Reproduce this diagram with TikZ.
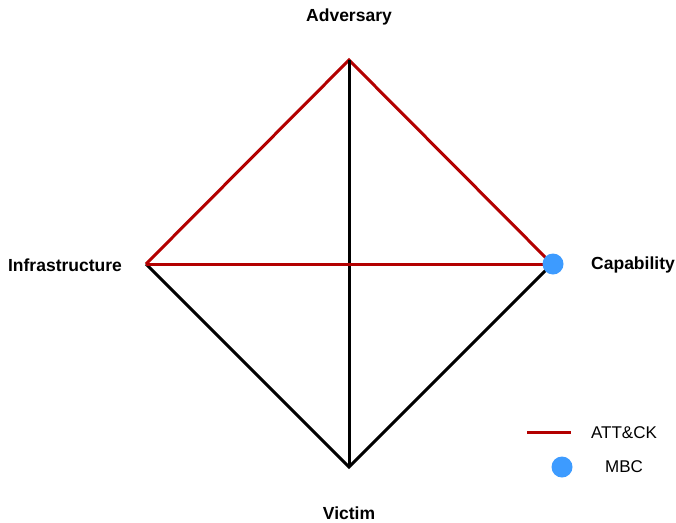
\documentclass[tikz,border=0pt]{standalone}
\usepackage{fontspec}
\setmainfont{Liberation Sans}
\definecolor{attred}{HTML}{B30000}
\definecolor{mbcblue}{HTML}{3D9BFF}
\begin{document}
\begin{tikzpicture}[x=1pt,y=-1pt,
  vlabel/.style={font=\fontsize{17.5}{20}\selectfont\bfseries,inner sep=1pt},
  llabel/.style={font=\fontsize{17}{20}\selectfont},
  blackedge/.style={draw=black,line width=3pt},
  rededge/.style={draw=attred,line width=3pt},
  mbcdot/.style={circle,fill=mbcblue,minimum size=21pt,inner sep=0pt}]
\useasboundingbox (0,0) rectangle (676,522);
\coordinate (adv) at (349,60);
\coordinate (inf) at (146,264);
\coordinate (cap) at (552,264);
\coordinate (vic) at (349,467);
\node[vlabel] (advl) at (349,17) {Adversary};
\node[vlabel] (infl) at (65,265) {Infrastructure};
\node[vlabel] (capl) at (633,265) {Capability};
\node[vlabel] (vicl) at (349,513) {Victim};
\draw[blackedge] (inf) -- (vic) -- (cap);
\draw[rededge] (inf) -- (adv) -- (cap);
\draw[blackedge] (adv) -- (vic);
\draw[rededge] (inf) -- (cap);
\node[mbcdot] (capdot) at (553,264) {};
% legend
\coordinate (lg1) at (527,432);
\coordinate (lg2) at (571,432);
\draw[rededge] (lg1) -- (lg2);
\node[llabel] (attl) at (624,433) {ATT\&CK};
\node[mbcdot] (legdot) at (562,467) {};
\node[llabel] (mbcl) at (624,467) {MBC};
\end{tikzpicture}
\end{document}
